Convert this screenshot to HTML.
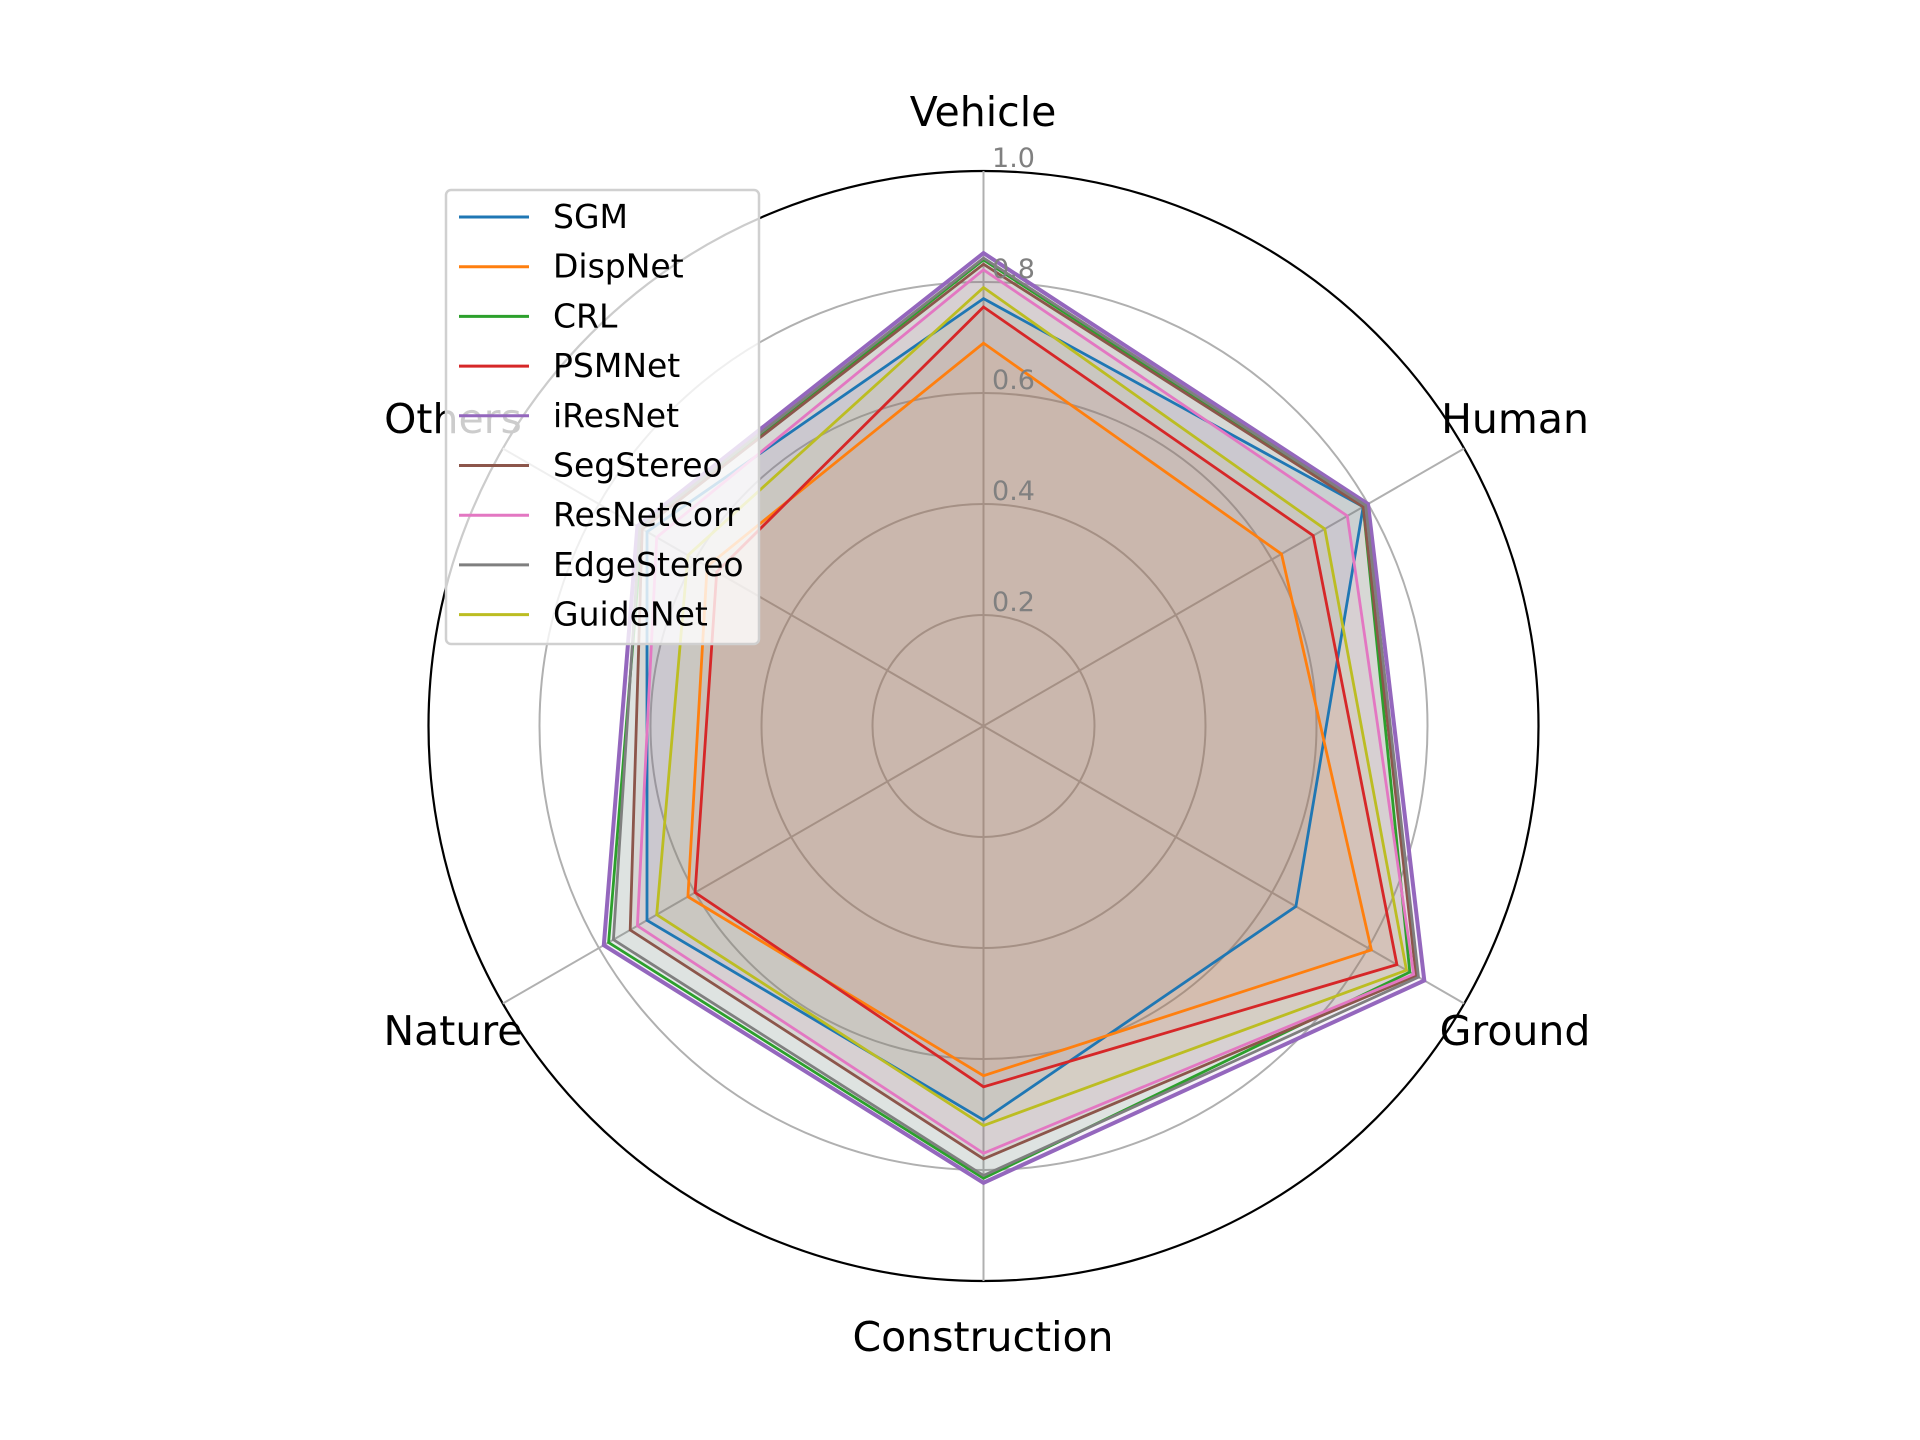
<!DOCTYPE html>
<html><head><meta charset="utf-8"><style>
html,body{margin:0;padding:0;background:#fff}
svg{display:block}
text{font-family:"DejaVu Sans","Liberation Sans",sans-serif}
</style></head><body>
<svg id="chart" width="1920" height="1440" viewBox="0 0 1920 1440" xmlns="http://www.w3.org/2000/svg">
<g id="grid"></g>
<g id="series"></g>
<g id="labels"></g>
<g id="legend"></g>
</svg>
<script>
const categories = ["Vehicle","Human","Ground","Construction","Nature","Others"];
const seriesNames = ["SGM","DispNet","CRL","PSMNet","iResNet","SegStereo","ResNetCorr","EdgeStereo","GuideNet"];
const colors = ["#1f77b4","#ff7f0e","#2ca02c","#d62728","#9467bd","#8c564b","#e377c2","#7f7f7f","#bcbd22"];
const SGM        = [0.77,0.79,0.65,0.71,0.70,0.70];
const DispNet    = [0.69,0.62,0.807,0.63,0.615,0.575];
const CRL        = [0.84,0.79,0.887,0.815,0.78,0.71];
const PSMNet     = [0.755,0.686,0.86,0.65,0.60,0.555];
const iResNet    = [0.852,0.80,0.917,0.823,0.79,0.72];
const SegStereo  = [0.832,0.79,0.90,0.78,0.735,0.71];
const ResNetCorr = [0.822,0.757,0.895,0.77,0.72,0.68];
const EdgeStereo = [0.843,0.795,0.905,0.81,0.77,0.715];
const GuideNet   = [0.79,0.71,0.88,0.72,0.68,0.615];
const ticks = [0.2,0.4,0.6,0.8,1.0];
const tickLabels = ["0.2","0.4","0.6","0.8","1.0"];
const allSeries = [SGM,DispNet,CRL,PSMNet,iResNet,SegStereo,ResNetCorr,EdgeStereo,GuideNet];

const NS="http://www.w3.org/2000/svg";
const cx=983.5, cy=726, R=555;
function ang(i){return Math.PI/2 - i*2*Math.PI/categories.length;}
function px(i,v){return cx+R*v*Math.cos(ang(i));}
function py(i,v){return cy-R*v*Math.sin(ang(i));}
function mk(tag,attrs,parent){const e=document.createElementNS(NS,tag);for(const k in attrs)e.setAttribute(k,attrs[k]);parent.appendChild(e);return e;}

const grid=document.getElementById('grid');
ticks.forEach((t,k)=>{
  const c=mk('circle',{cx:cx,cy:cy,r:R*t,fill:'none',stroke:t===1?'#000':'#b0b0b0','stroke-width':t===1?2.2:2},grid);
  
  
});
categories.forEach((c,i)=>{
  const l=mk('line',{x1:cx,y1:cy,x2:px(i,1),y2:py(i,1),stroke:'#b0b0b0','stroke-width':2},grid);
  
  
});

const sg=document.getElementById('series');
allSeries.forEach((vals,s)=>{
  const pts=vals.map((v,i)=>px(i,v).toFixed(1)+','+py(i,v).toFixed(1)).join(' ');
  const f=mk('polygon',{points:pts,fill:colors[s],'fill-opacity':0.08,stroke:'none'},sg);
  
  
});
allSeries.forEach((vals,s)=>{
  const pts=vals.map((v,i)=>px(i,v).toFixed(1)+','+py(i,v).toFixed(1)).join(' ');
  const p=mk('polygon',{points:pts,fill:'none',stroke:colors[s],'stroke-width':seriesNames[s]==='iResNet'?4:2.8,'stroke-linejoin':'miter'},sg);
  
  
});

const lg=document.getElementById('labels');
ticks.forEach((t,k)=>{
  const tx=mk('text',{x:cx+30,y:cy-R*t-4,'font-size':27,fill:'#808080','text-anchor':'middle'},lg);
  tx.textContent=tickLabels[k];
  
  
});
const labelPos=[[983,112],[1515,419],[1515,1031],[983,1337],[453,1031],[453,419]];
categories.forEach((c,i)=>{
  const tx=mk('text',{x:labelPos[i][0],y:labelPos[i][1]+14,'font-size':41,fill:'#000','text-anchor':'middle'},lg);
  tx.textContent=c;
  
  
});

const leg=document.getElementById('legend');
const box=mk('rect',{x:446,y:190,width:313,height:454,rx:5,fill:'#fff','fill-opacity':0.8,stroke:'#d0d0d0','stroke-width':2.5},leg);


seriesNames.forEach((n,s)=>{
  const y=217+s*49.7;
  const l=mk('line',{x1:459,y1:y,x2:529,y2:y,stroke:colors[s],'stroke-width':3},leg);
  
  
  const t=mk('text',{x:553,y:y+11,'font-size':33,fill:'#000'},leg);
  t.textContent=n;
  
  
});
</script>
</body></html>
